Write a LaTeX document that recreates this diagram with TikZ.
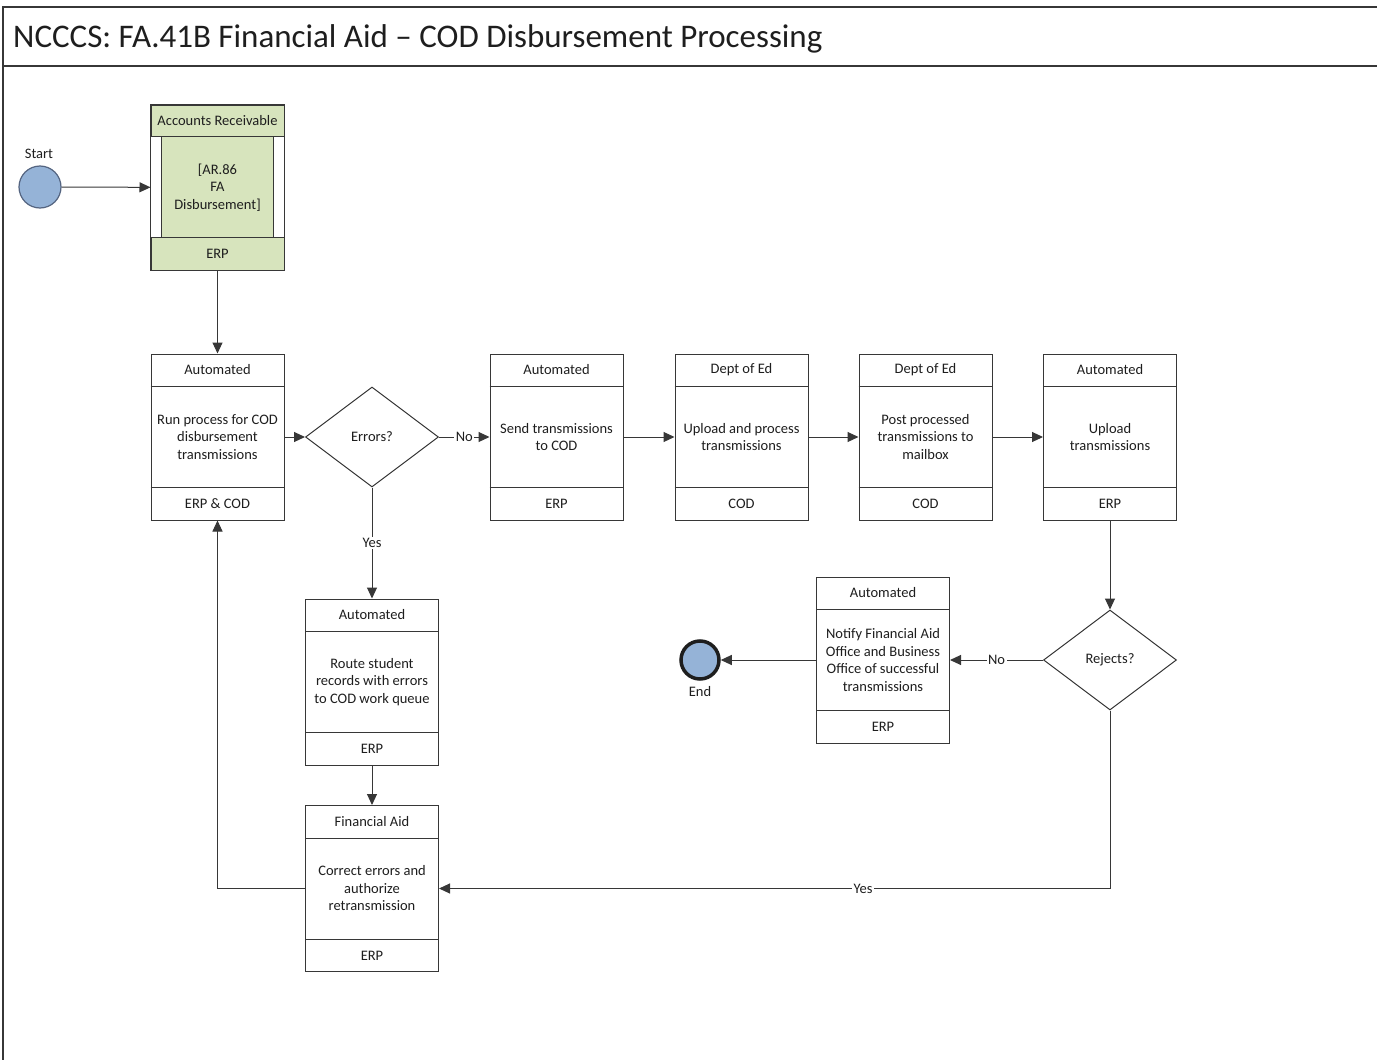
\documentclass[tikz,border=0pt]{standalone}
\usepackage{fontspec}
\setmainfont{Carlito}
\usetikzlibrary{shapes.geometric,arrows.meta}

\definecolor{evblue}{RGB}{149,179,215}
\definecolor{evedge}{RGB}{84,100,128}
\definecolor{subgreen}{RGB}{215,228,189}
\definecolor{ink}{RGB}{55,55,55}
\definecolor{txt}{RGB}{30,30,30}

% three-part activity box: name, position, lane, task, system
\newcommand{\procbox}[5]{%
  \node[procbox] (#1) at (#2) {#4};
  \draw[boxline] ([yshift=-33pt]#1.north west) -- ([yshift=-33pt]#1.north east)
    ([yshift=33pt]#1.south west) -- ([yshift=33pt]#1.south east);
  \node[lbl] at ([yshift=-16.5pt]#1.north) {#3};
  \node[lbl] at ([yshift=16.5pt]#1.south) {#5};
}

\begin{document}
\begin{tikzpicture}[x=1pt,y=-1pt,
  lbl/.style={text=txt,font=\fontsize{14.5}{17.5}\selectfont,align=center,inner sep=1pt},
  boxline/.style={draw=ink,line width=1pt},
  procbox/.style={lbl,boxline,fill=white,minimum width=133pt,minimum height=166pt},
  decision/.style={lbl,diamond,boxline,fill=white,minimum width=133pt,minimum height=100pt,inner sep=0pt},
  flow/.style={draw=ink,line width=1pt,-{Triangle[length=11pt,width=10pt]}},
  onwire/.style={lbl,fill=white,inner sep=1.5pt}]
\useasboundingbox (0,0) rectangle (1377,1060);
\clip (0,0) rectangle (1377,1060);

% page frame and title bar
\draw[ink,line width=1.4pt] (3,1100) |- (1400,7);
\draw[ink,line width=1.4pt] (3,66) -- (1400,66);
\node[anchor=base west,text=txt,inner sep=0pt,font=\fontsize{33}{40}\selectfont] (title) at (13,47)
  {NCCCS: FA.41B Financial Aid -- COD Disbursement Processing};

% start event
\node[circle,draw=evedge,line width=1.2pt,fill=evblue,minimum size=42pt] (start) at (40,187) {};
\node[lbl] (startlbl) at (39,154) {Start};

% sub-process from AR
\node[lbl,boxline,fill=subgreen,minimum width=133pt,minimum height=165pt] (ar) at (217.5,187.5) {};
\fill[white] ([shift={(0.5pt,-32pt)}]ar.north west) rectangle ([shift={(11pt,33pt)}]ar.south west);
\fill[white] ([shift={(-0.5pt,-32pt)}]ar.north east) rectangle ([shift={(-11pt,33pt)}]ar.south east);
\draw[boxline] ([yshift=-32pt]ar.north west) -- ([yshift=-32pt]ar.north east)
  ([yshift=33pt]ar.south west) -- ([yshift=33pt]ar.south east)
  ([shift={(11pt,-32pt)}]ar.north west) -- ([shift={(11pt,33pt)}]ar.south west)
  ([shift={(-11pt,-32pt)}]ar.north east) -- ([shift={(-11pt,33pt)}]ar.south east);
\draw[boxline] (ar.north west) rectangle (ar.south east);
\node[lbl] (arlane) at ([yshift=-16pt]ar.north) {Accounts Receivable};
\node[lbl] (artask) at (ar.center) {[AR.86\\FA\\Disbursement]};
\node[lbl] (arsys) at ([yshift=16.5pt]ar.south) {ERP};

% main row
\procbox{run}{217.5,437}{Automated}{Run process for COD\\disbursement\\transmissions}{ERP \& COD}
\node[decision] (err) at (372,437) {Errors?};
\procbox{send}{556.5,437}{Automated}{Send transmissions\\to COD}{ERP}
\procbox{upproc}{741.5,437}{Dept of Ed}{Upload and process\\transmissions}{COD}
\procbox{post}{925.5,437}{Dept of Ed}{Post processed\\transmissions to\\mailbox}{COD}
\procbox{upl}{1110,437}{Automated}{Upload\\transmissions}{ERP}

% error branch
\procbox{route}{372,682}{Automated}{Route student\\records with errors\\to COD work queue}{ERP}
\procbox{corr}{372,888.5}{Financial Aid}{Correct errors and\\authorize\\retransmission}{ERP}

% reject check and end
\node[decision] (rej) at (1110,660) {Rejects?};
\procbox{notify}{883,660}{Automated}{Notify Financial Aid\\Office and Business\\Office of successful\\transmissions}{ERP}
\node[circle,draw=txt,line width=3.5pt,fill=evblue,minimum size=38pt] (end) at (700,660) {};
\node[lbl] (endlbl) at (700,692) {End};

% connectors
\draw[flow] (start) -- (ar);
\draw[flow] (ar) -- (run);
\draw[flow] (run) -- (err);
\draw[flow] (err) -- node[onwire] {No} (send);
\draw[flow] (send) -- (upproc);
\draw[flow] (upproc) -- (post);
\draw[flow] (post) -- (upl);
\draw[flow] (upl) -- (rej);
\draw[flow] (rej) -- node[onwire] {No} (notify);
\draw[flow] (notify) -- (end);
\draw[flow] (err) -- node[onwire,pos=0.5] {Yes} (route);
\draw[flow] (route) -- (corr);
\draw[flow] (corr.west) -| (run.south);
\draw[flow] (rej.south) |- node[onwire,pos=0.684] {Yes} (corr.east);
\end{tikzpicture}
\end{document}
